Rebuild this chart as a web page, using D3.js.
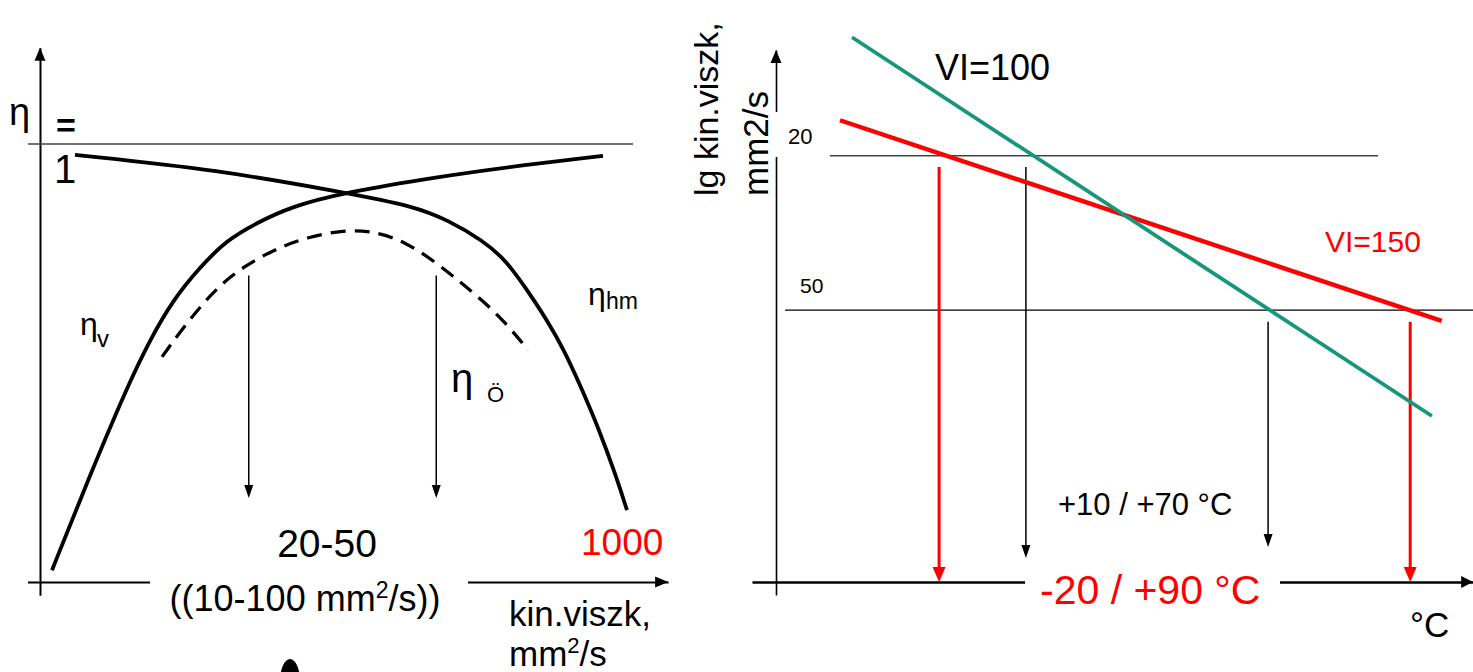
<!DOCTYPE html>
<html><head><meta charset="utf-8">
<script src="https://cdn.jsdelivr.net/npm/d3@7"></script>
<style>
html,body{margin:0;padding:0;background:#fff;overflow:hidden}
svg{display:block}
text{font-family:"Liberation Sans",Arial,Helvetica,sans-serif}
</style></head><body>
<svg id="c" width="1473" height="672"></svg>
<script>
// ===== Left panel: efficiency (0–1) vs. kinematic viscosity (schematic units 0–100)
const etaVVisc  = [1.92, 7.68, 13.92, 17.6, 21.28, 25.6, 29.92, 34.72, 40, 48.32, 63.52, 77.44, 90.08];
const etaVVals  = [0.027, 0.233, 0.445, 0.553, 0.644, 0.719, 0.781, 0.820, 0.856, 0.888, 0.925, 0.952, 0.973];
const etaHmVisc = [5.6, 28.48, 49.12, 59.84, 65.28, 70.72, 74.56, 77.92, 81.12, 83.84, 86.56, 89.28, 92, 93.92];
const etaHmVals = [0.975, 0.941, 0.888, 0.858, 0.826, 0.781, 0.735, 0.667, 0.598, 0.530, 0.445, 0.354, 0.249, 0.164];
const etaOeVisc = [19.52, 22.4, 25.6, 28.8, 32.48, 37.28, 42.72, 49.6, 54.4, 58.72, 63.2, 66.88, 70.72, 74.56, 78.08];
const etaOeVals = [0.514, 0.571, 0.628, 0.678, 0.719, 0.758, 0.788, 0.806, 0.797, 0.774, 0.731, 0.689, 0.644, 0.591, 0.530];
const optimumVisc = [33.4, 63.4];      // arrows down to "20-50"
const optimumEta  = [0.70, 0.192];     // arrow start / tip
const unityLine   = [-1.9, 94.9];      // η = 1 reference line extent

// ===== Right panel: lg kin. viscosity vs. temperature (schematic units 0–100)
const vi100Temp = [10.86, 93.7];
const vi100Visc = [102.4, 31.2];
const vi150Temp = [9.14, 95.1];
const vi150Visc = [86.8, 49.1];
const refLabels = ["20", "50"];
const refVisc   = [80.1, 51.1];
const refFrom   = [7.7, 1.3];
const refTo     = [86, 99.6];
const markTemp  = [23.3, 35.7, 70.3, 90.6];
const markTop   = [78, 78, 48.9, 48.9];
const markTip   = [0, 4.5, 6.6, 0];
const markRed   = [true, false, false, true];

const RED = "#ff0000", GREEN = "#17977a";
const svg = d3.select("#c");

// scales
const xL = d3.scaleLinear().domain([0, 100]).range([40, 665]);
const yL = d3.scaleLinear().domain([0, 1]).range([582, 144]);
const xR = d3.scaleLinear().domain([0, 100]).range([776, 1476]);
const yR = d3.scaleLinear().domain([0, 100]).range([582, 50]);

function ext(s, d) { return s.copy().domain(d).range(d.map(s)); }

function arrowDown(g, x, y1, y2, color, w, hw, hl) {
  g.append("line").attr("x1", x).attr("x2", x).attr("y1", y1).attr("y2", y2 - hl + 1)
    .attr("stroke", color).attr("stroke-width", w);
  g.append("path").attr("d", `M${x - hw},${y2 - hl}L${x + hw},${y2 - hl}L${x},${y2}Z`).attr("fill", color);
}
function txt(g, x, y, s, size, color, extra) {
  const t = g.append("text").attr("x", x).attr("y", y).attr("font-size", size)
    .attr("fill", color || "#000").text(s);
  if (extra) extra(t);
  return t;
}

// ---------- LEFT PANEL ----------
const L = svg.append("g");
const axLx = L.append("g").attr("transform", `translate(0,${yL(0)})`)
  .call(d3.axisBottom(ext(xL, [-2, 100.5])).tickValues([]).tickSizeOuter(0));
axLx.select(".domain").attr("stroke", "#000").attr("stroke-width", 2.2);
const axLy = L.append("g").attr("transform", `translate(${xL(0)},0)`)
  .call(d3.axisLeft(ext(yL, [-0.03, 1.22])).tickValues([]).tickSizeOuter(0));
axLy.select(".domain").attr("stroke", "#000").attr("stroke-width", 2);
L.append("path").attr("d", `M${xL(100.5)},${yL(0)}l-13,-5.5v11Z`).attr("fill", "#000");
L.append("path").attr("d", `M${xL(0)},${yL(1.22)}l-5.5,13h11Z`).attr("fill", "#000");
L.append("rect").attr("x", 150).attr("y", 572).attr("width", 318).attr("height", 20).attr("fill", "#fff");

L.append("line").attr("x1", xL(unityLine[0])).attr("x2", xL(unityLine[1]))
  .attr("y1", yL(1)).attr("y2", yL(1)).attr("stroke", "#444").attr("stroke-width", 1.4);

const lineL = d3.line().x(d => xL(d[0])).y(d => yL(d[1])).curve(d3.curveBasis);
L.append("path").attr("d", lineL(d3.zip(etaVVisc, etaVVals))).attr("fill", "none")
  .attr("stroke", "#000").attr("stroke-width", 3.8);
L.append("path").attr("d", lineL(d3.zip(etaHmVisc, etaHmVals))).attr("fill", "none")
  .attr("stroke", "#000").attr("stroke-width", 3.8);
L.append("path").attr("d", lineL(d3.zip(etaOeVisc, etaOeVals))).attr("fill", "none")
  .attr("stroke", "#000").attr("stroke-width", 3.3).attr("stroke-dasharray", "15 9");

optimumVisc.forEach(v => arrowDown(L, xL(v), yL(optimumEta[0]), yL(optimumEta[1]), "#000", 1.5, 4.5, 13));

txt(L, 9, 125, "η", 38);
txt(L, 56, 137, "=", 34, "#000", t => t.attr("font-weight", "bold"));
txt(L, 54, 183, "1", 40);
txt(L, 80, 335, "η", 32);
txt(L, 97, 347, "v", 24);
txt(L, 588, 305, "η", 32);
txt(L, 606, 309, "hm", 23);
txt(L, 451, 392, "η", 40);
txt(L, 487, 402, "Ö", 22);
txt(L, 327, 557, "20-50", 39, "#000", t => t.attr("text-anchor", "middle"));
const sub = txt(L, 305, 611, "", 36, "#000", t => t.attr("text-anchor", "middle"));
sub.append("tspan").text("((10-100 mm");
sub.append("tspan").attr("font-size", 23).attr("dy", -13).text("2");
sub.append("tspan").attr("dy", 13).text("/s))");
txt(L, 581, 555, "1000", 37, RED);
txt(L, 509, 626, "kin.viszk,", 35);
const mm = txt(L, 509, 666, "", 35);
mm.append("tspan").text("mm");
mm.append("tspan").attr("font-size", 22).attr("dy", -13).text("2");
mm.append("tspan").attr("dy", 13).text("/s");
L.append("ellipse").attr("cx", 290).attr("cy", 681).attr("rx", 10).attr("ry", 22).attr("fill", "#000");

// ---------- RIGHT PANEL ----------
const R = svg.append("g");
const axRx = R.append("g").attr("transform", `translate(0,${yR(0)})`)
  .call(d3.axisBottom(ext(xR, [-3.43, 99.6])).tickValues([]).tickSizeOuter(0));
axRx.select(".domain").attr("stroke", "#000").attr("stroke-width", 2.6);
const axRy = R.append("g").attr("transform", `translate(${xR(0)},0)`)
  .call(d3.axisLeft(ext(yR, [-2.44, 100])).tickValues([]).tickSizeOuter(0));
axRy.select(".domain").attr("stroke", "#000").attr("stroke-width", 1.6);
R.append("path").attr("d", `M${xR(99.6)},${yR(0)}l-12,-6v12Z`).attr("fill", "#000");
R.append("path").attr("d", `M${xR(0)},${yR(100)}l-5.5,13h11Z`).attr("fill", "#000");
R.append("rect").attr("x", 1025).attr("y", 572).attr("width", 255).attr("height", 20).attr("fill", "#fff");
R.append("rect").attr("x", 768).attr("y", 112).attr("width", 16).attr("height", 45).attr("fill", "#fff");

refLabels.forEach((lab, i) => {
  R.append("line").attr("x1", xR(refFrom[i])).attr("x2", xR(refTo[i]))
    .attr("y1", yR(refVisc[i])).attr("y2", yR(refVisc[i]))
    .attr("stroke", i === 0 ? "#444" : "#000").attr("stroke-width", i === 0 ? 1.5 : 1.3);
});
txt(R, 788, 144, refLabels[0], 22);
txt(R, 800, 293, refLabels[1], 21);

markTemp.forEach((t, i) => {
  if (markRed[i]) arrowDown(R, xR(t), yR(markTop[i]), yR(markTip[i]), RED, 3, 6.5, 15);
  else arrowDown(R, xR(t), yR(markTop[i]), yR(markTip[i]), "#000", 1.5, 4.5, 13);
});

const lineR = d3.line().x(d => xR(d[0])).y(d => yR(d[1]));
R.append("path").attr("d", lineR(d3.zip(vi150Temp, vi150Visc))).attr("fill", "none")
  .attr("stroke", RED).attr("stroke-width", 4.4);
R.append("path").attr("d", lineR(d3.zip(vi100Temp, vi100Visc))).attr("fill", "none")
  .attr("stroke", GREEN).attr("stroke-width", 3.8);

txt(R, 935, 80, "VI=100", 36);
txt(R, 1325, 252, "VI=150", 30, RED);
txt(R, 718, 196, "lg kin.viszk,", 34, "#000", t => t.attr("transform", "rotate(-90,718,196)"));
txt(R, 768, 196, "mm2/s", 35, "#000", t => t.attr("transform", "rotate(-90,768,196)"));
txt(R, 1058, 515, "+10 / +70 °C", 31);
txt(R, 1040, 604, "-20 / +90 °C", 41, RED);
txt(R, 1410, 637, "°C", 35);
</script>
</body></html>
